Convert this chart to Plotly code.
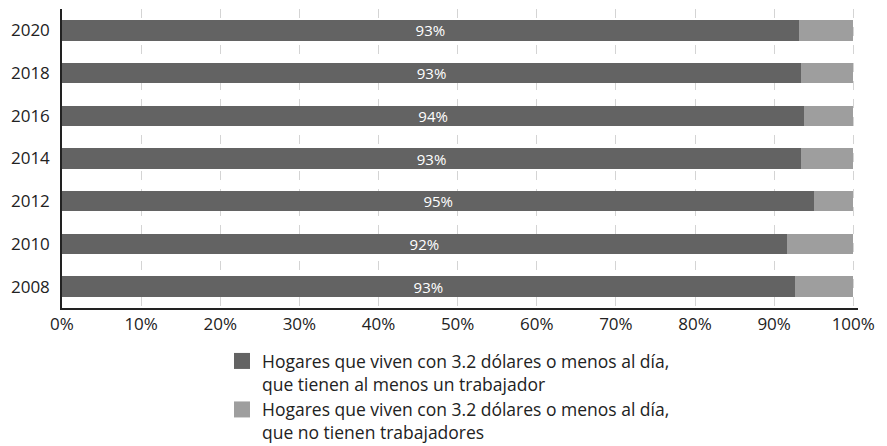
import plotly.graph_objects as go

years = ["2008", "2010", "2012", "2014", "2016", "2018", "2020"]
con_trabajador = [92.6, 91.6, 95.1, 93.4, 93.8, 93.4, 93.1]
sin_trabajador = [round(100 - v, 1) for v in con_trabajador]
x_ticks = [0, 10, 20, 30, 40, 50, 60, 70, 80, 90, 100]
x_tick_labels = [f"{t}%" for t in x_ticks]

name1 = "Hogares que viven con 3.2 dólares o menos al día,<br>que tienen al menos un trabajador"
name2 = "Hogares que viven con 3.2 dólares o menos al día,<br>que no tienen trabajadores"

FONT = "Open Sans"
DARK = "#636363"
LIGHT = "#9e9e9e"

fig = go.Figure()
fig.add_trace(go.Bar(
    y=years, x=con_trabajador, orientation="h", name=name1,
    marker=dict(color=DARK, line=dict(width=0)),
    text=[f"{round(v)}%" for v in con_trabajador],
    textposition="inside", insidetextanchor="middle",
    constraintext="none",
    textfont=dict(color="white", size=15, family=FONT),
    showlegend=False, hoverinfo="x+y",
))
fig.add_trace(go.Bar(
    y=years, x=sin_trabajador, orientation="h", name=name2,
    marker=dict(color=LIGHT, line=dict(width=0)),
    showlegend=False, hoverinfo="x+y",
))
# legend entries (square swatches)
for nm, col in [(name1, DARK), (name2, LIGHT)]:
    fig.add_trace(go.Scatter(
        x=[None], y=[None], mode="markers", name=nm,
        marker=dict(symbol="square", size=16, color=col),
        showlegend=True,
    ))

fig.update_layout(
    barmode="stack",
    bargap=0.52,
    width=879, height=438,
    margin=dict(l=54, r=29, t=1, b=138),
    paper_bgcolor="white", plot_bgcolor="white",
    font=dict(family=FONT, size=17, color="#222222"),
    showlegend=True,
    legend=dict(
        x=0.201, y=0.235, xanchor="left", yanchor="top", yref="container",
        orientation="v", traceorder="normal", valign="top",
        font=dict(size=17.5, family=FONT, color="#222222"),
        itemsizing="trace", tracegroupgap=0,
        bgcolor="rgba(0,0,0,0)",
    ),
)
fig.update_xaxes(
    range=[0, 100.6], tickvals=x_ticks, ticktext=x_tick_labels,
    showgrid=True, gridcolor="#d4d4d4", griddash="dash", gridwidth=1,
    showline=True, linecolor="#222222", linewidth=1.5,
    zeroline=False, ticks="", tickfont=dict(size=17), automargin=False,
)
fig.update_yaxes(
    type="category", categoryorder="array", categoryarray=years,
    showline=True, linecolor="#222222", linewidth=1.5,
    showgrid=False, ticks="", ticklabelstandoff=7, tickfont=dict(size=17),
    automargin=False,
)

fig.write_html("out.html")
